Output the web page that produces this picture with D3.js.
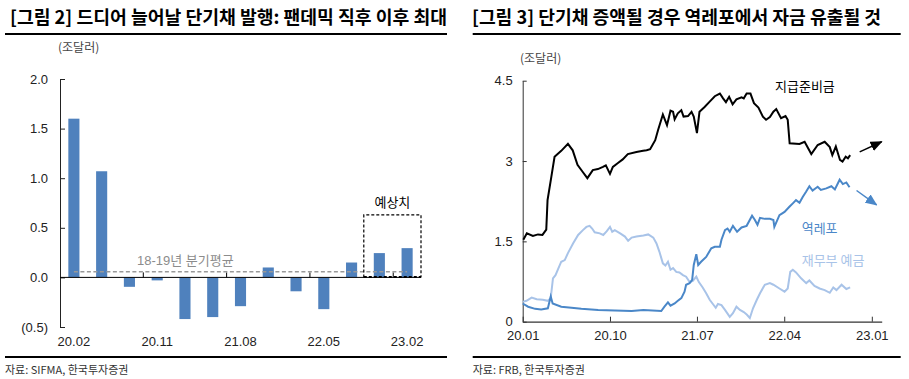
<!DOCTYPE html>
<html><head><meta charset="utf-8">
<script src="https://cdn.jsdelivr.net/npm/d3@7"></script>
<style>
body{margin:0;background:#fff}
svg{display:block}
text{font-family:"Liberation Sans", Arial, "Noto Sans CJK KR", sans-serif;}
.kr{font-family:"Noto Sans CJK KR","Liberation Sans",sans-serif;}
</style>
</head><body>
<svg id="c" width="909" height="379"></svg>
<script>
// ---------- LEFT CHART DATA ----------
const quarters = ["20.02","20.05","20.08","20.11","21.02","21.05","21.08","21.11","22.02","22.05","22.08","22.11","23.02"];
const issuance = [1.6, 1.07, -0.095, -0.03, -0.42, -0.40, -0.29, 0.10, -0.14, -0.32, 0.15, 0.245, 0.295];
const avg1819 = 0.057;
const forecastFrom = "22.11";
const leftYTicks = [2.0, 1.5, 1.0, 0.5, 0.0, -0.5];
const leftXLabels = ["20.02","20.11","21.08","22.05","23.02"];
const leftBoundaryTicks = ["20.11","21.08","22.05","23.02"];

// ---------- RIGHT CHART DATA ----------
const reserves = [
["2020-01-03",1.53],["2020-01-14",1.65],["2020-02-02",1.60],["2020-02-18",1.63],["2020-03-03",1.62],
["2020-03-15",1.72],["2020-03-19",2.27],["2020-03-31",2.71],["2020-04-10",3.08],["2020-05-01",3.19],
["2020-05-22",3.32],["2020-06-06",3.20],["2020-06-21",2.93],["2020-07-07",2.80],["2020-07-22",2.68],
["2020-08-08",2.83],["2020-08-24",2.85],["2020-09-09",2.89],["2020-09-18",2.92],["2020-10-01",2.76],
["2020-10-10",2.89],["2020-10-25",2.96],["2020-11-10",3.03],["2020-11-26",3.13],["2020-12-23",3.17],
["2021-01-13",3.19],["2021-01-24",3.20],["2021-02-04",3.22],["2021-02-20",3.39],["2021-03-01",3.58],
["2021-03-16",3.87],["2021-03-29",3.67],["2021-04-09",3.94],["2021-04-17",3.92],["2021-04-22",3.78],
["2021-05-02",3.89],["2021-05-13",3.95],["2021-05-20",3.83],["2021-06-03",3.84],["2021-06-14",3.92],
["2021-06-21",3.83],["2021-07-01",3.52],["2021-07-09",3.92],["2021-07-25",4.01],["2021-08-10",4.11],
["2021-08-26",4.21],["2021-09-11",4.26],["2021-09-21",4.17],["2021-09-30",4.10],["2021-10-10",4.20],
["2021-10-21",4.06],["2021-11-02",4.15],["2021-11-18",4.19],["2021-11-25",4.17],["2021-12-04",4.26],
["2021-12-16",4.26],["2021-12-27",4.08],["2022-01-10",4.00],["2022-01-24",3.83],["2022-02-03",3.77],
["2022-02-15",3.82],["2022-02-26",3.92],["2022-03-07",3.97],["2022-03-22",3.80],["2022-04-05",3.84],
["2022-04-12",3.77],["2022-04-18",3.33],["2022-05-19",3.32],["2022-06-04",3.36],["2022-06-25",3.13],
["2022-07-15",3.30],["2022-08-06",3.36],["2022-08-22",3.26],["2022-08-30",3.11],["2022-09-10",3.27],
["2022-09-23",3.02],["2022-10-01",2.99],["2022-10-11",3.08],["2022-10-18",3.05],["2022-10-25",3.11]
];
const reverseRepo = [
["2020-01-01",0.34],["2020-01-18",0.28],["2020-02-09",0.24],["2020-02-28",0.23],["2020-03-20",0.25],
["2020-03-29",0.47],["2020-04-04",0.34],["2020-05-01",0.28],["2020-06-02",0.26],["2020-07-03",0.24],
["2020-08-25",0.22],["2020-10-16",0.21],["2020-12-08",0.20],["2021-01-14",0.22],["2021-03-11",0.20],
["2021-03-21",0.28],["2021-04-01",0.36],["2021-04-09",0.30],["2021-04-22",0.34],["2021-05-02",0.39],
["2021-05-13",0.44],["2021-05-23",0.56],["2021-05-28",0.69],["2021-06-08",0.72],["2021-06-16",0.78],
["2021-06-21",1.06],["2021-06-29",1.26],["2021-07-05",1.06],["2021-07-14",1.12],["2021-07-30",1.21],
["2021-08-15",1.37],["2021-08-26",1.40],["2021-09-11",1.40],["2021-09-16",1.53],["2021-09-27",1.71],
["2021-10-05",1.74],["2021-10-12",1.68],["2021-10-22",1.79],["2021-11-04",1.68],["2021-11-18",1.76],
["2021-12-04",1.79],["2021-12-21",1.98],["2021-12-30",1.90],["2022-01-07",1.81],["2022-01-15",1.94],
["2022-01-30",1.92],["2022-02-15",1.92],["2022-02-26",1.90],["2022-03-01",1.77],["2022-03-17",1.99],
["2022-04-02",2.05],["2022-04-18",2.15],["2022-04-28",2.21],["2022-05-08",2.27],["2022-05-19",2.22],
["2022-05-29",2.33],["2022-06-09",2.43],["2022-06-19",2.53],["2022-06-29",2.45],["2022-07-15",2.52],
["2022-07-25",2.46],["2022-08-11",2.49],["2022-08-27",2.53],["2022-09-07",2.47],["2022-09-22",2.65],
["2022-10-02",2.57],["2022-10-13",2.60],["2022-10-23",2.51]
];
const tga = [
["2020-01-01",0.37],["2020-01-13",0.39],["2020-01-29",0.45],["2020-02-14",0.42],["2020-03-04",0.41],
["2020-03-20",0.39],["2020-03-29",0.44],["2020-04-05",0.81],["2020-04-13",0.87],["2020-04-21",0.98],
["2020-05-01",1.12],["2020-05-12",1.15],["2020-05-22",1.28],["2020-06-07",1.46],["2020-06-23",1.62],
["2020-07-08",1.71],["2020-07-19",1.77],["2020-07-29",1.79],["2020-08-06",1.74],["2020-08-14",1.67],
["2020-08-30",1.65],["2020-09-10",1.62],["2020-09-21",1.69],["2020-10-01",1.77],["2020-10-08",1.68],
["2020-10-16",1.71],["2020-11-02",1.65],["2020-11-17",1.59],["2020-11-27",1.51],["2020-12-08",1.57],
["2020-12-23",1.59],["2021-01-14",1.61],["2021-01-29",1.63],["2021-02-14",1.57],["2021-02-24",1.46],
["2021-03-05",1.31],["2021-03-16",1.09],["2021-03-24",1.05],["2021-04-01",1.12],["2021-04-09",0.97],
["2021-04-17",1.00],["2021-04-27",0.93],["2021-05-07",0.92],["2021-05-18",0.87],["2021-05-28",0.84],
["2021-06-08",0.74],["2021-06-18",0.76],["2021-06-29",0.84],["2021-07-07",0.74],["2021-07-19",0.64],
["2021-07-30",0.53],["2021-08-10",0.41],["2021-08-20",0.33],["2021-08-29",0.26],["2021-09-05",0.33],
["2021-09-16",0.31],["2021-09-27",0.22],["2021-10-04",0.16],["2021-10-12",0.09],["2021-10-22",0.16],
["2021-11-02",0.28],["2021-11-13",0.22],["2021-11-25",0.18],["2021-12-05",0.13],["2021-12-14",0.07],
["2021-12-24",0.25],["2022-01-05",0.41],["2022-01-15",0.53],["2022-01-30",0.69],["2022-02-15",0.72],
["2022-02-26",0.69],["2022-03-17",0.62],["2022-04-02",0.56],["2022-04-12",0.62],["2022-04-20",0.93],
["2022-04-28",0.97],["2022-05-08",0.92],["2022-05-24",0.81],["2022-06-09",0.72],["2022-06-19",0.77],
["2022-07-05",0.67],["2022-07-21",0.62],["2022-08-06",0.59],["2022-08-22",0.54],["2022-09-02",0.64],
["2022-09-12",0.59],["2022-09-28",0.69],["2022-10-13",0.61],["2022-10-25",0.64]
];
const rightYTicks = [0, 1.5, 3, 4.5];
const rightXTicks = ["2020-01-01","2020-10-01","2021-07-01","2022-04-01","2023-01-01"];
const arrowReserves = [["2022-11-24",3.17],["2023-02-01",3.36]];
const arrowRepo = [["2022-11-14",2.45],["2023-01-16",2.18]];

// ---------- STYLE ----------
const BAR = "#4f81bd", RRP = "#4a87c8", TGA = "#a8c3e8", TXT = "#222";

const svg = d3.select("#c");
const defs = svg.append("defs");
function marker(id, color){
  defs.append("marker").attr("id", id).attr("markerUnits","userSpaceOnUse")
    .attr("markerWidth",12).attr("markerHeight",10).attr("refX",11).attr("refY",5)
    .attr("orient","auto").append("path").attr("d","M0,0 L12,5 L0,10 Z").attr("fill", color);
}
marker("ab","#000"); marker("abl", RRP);

// ---------- Titles / frames ----------
function frame(x0, x1, tx, tw, title, source){
  svg.append("text").attr("class","kr").attr("x", tx).attr("y", 23.5)
    .attr("font-size", 18).attr("font-weight","bold").attr("fill","#000")
    .attr("textLength", tw).attr("lengthAdjust","spacingAndGlyphs").text(title);
  svg.append("line").attr("x1", x0).attr("x2", x1).attr("y1", 34).attr("y2", 34)
    .attr("stroke","#000").attr("stroke-width", 2);
  svg.append("line").attr("x1", x0).attr("x2", x1).attr("y1", 357).attr("y2", 357)
    .attr("stroke","#000").attr("stroke-width", 2);
  svg.append("text").attr("class","kr").attr("x", x0).attr("y", 373.5)
    .attr("font-size", 11).attr("fill", "#333").text(source);
}
frame(5, 447, 10, 437, "[그림 2] 드디어 늘어날 단기채 발행: 팬데믹 직후 이후 최대", "자료: SIFMA, 한국투자증권");
frame(472.7, 900.7, 472, 409, "[그림 3] 단기채 증액될 경우 역레포에서 자금 유출될 것", "자료: FRB, 한국투자증권");

// ---------- LEFT CHART ----------
const xL = d3.scaleBand().domain(quarters).range([60, 421]).paddingInner(0.6).paddingOuter(0.3);
const yL = d3.scaleLinear().domain([-0.5, 2.0]).range([327, 79]);
const gL = svg.append("g");

svg.append("text").attr("class","kr").attr("x", 58).attr("y", 51.5).attr("font-size", 12)
  .attr("fill","#444").text("(조달러)");

gL.selectAll("rect.bar").data(quarters).join("rect").attr("class","bar")
  .attr("x", d => xL(d)).attr("width", xL.bandwidth())
  .attr("y", (d,i) => yL(Math.max(0, issuance[i])))
  .attr("height", (d,i) => Math.abs(yL(issuance[i]) - yL(0)))
  .attr("fill", BAR);

// y axis
const axL = gL.append("g").attr("transform", "translate(60,0)")
  .call(d3.axisLeft(yL).tickValues(leftYTicks).tickSize(-5).tickSizeOuter(0).tickPadding(12)
    .tickFormat(d => d < 0 ? "(" + Math.abs(d).toFixed(1) + ")" : d.toFixed(1)));
axL.selectAll("text").attr("font-size", 13).attr("fill", TXT);
axL.selectAll("line,path").attr("stroke","#222");

// zero line with boundary ticks
gL.append("line").attr("x1", 60).attr("x2", 421).attr("y1", yL(0)).attr("y2", yL(0)).attr("stroke","#000");
const half = xL.step() * xL.paddingInner() / 2;
gL.selectAll("line.bt").data(leftBoundaryTicks).join("line").attr("class","bt")
  .attr("x1", d => xL(d) - half).attr("x2", d => xL(d) - half)
  .attr("y1", yL(0)).attr("y2", yL(0) - 5).attr("stroke","#000");

// x labels
const axLx = gL.append("g").attr("transform", `translate(0,${yL(-0.5)})`)
  .call(d3.axisBottom(xL).tickValues(leftXLabels).tickSize(0).tickPadding(10));
axLx.select(".domain").remove();
axLx.selectAll("text").attr("font-size", 13).attr("fill", TXT);

// average dashed line
gL.append("line")
  .attr("x1", xL(quarters[0]) + xL.bandwidth()/2).attr("x2", xL(quarters[quarters.length-1]) + xL.bandwidth()/2)
  .attr("y1", yL(avg1819)).attr("y2", yL(avg1819))
  .attr("stroke","#999").attr("stroke-width",1.6).attr("stroke-dasharray","4,2.5");
gL.append("text").attr("x", 137).attr("y", 264.5).attr("font-size", 13).attr("fill","#8c8c8c")
  .text("18-19년 분기평균");

// forecast box
const bx0 = xL(forecastFrom) - 10, bx1 = 421, by0 = yL(0.63), by1 = yL(0);
gL.append("path").attr("d", `M${bx0},${by1} L${bx0},${by0} L${bx1},${by0} L${bx1},${by1}`)
  .attr("fill","none").attr("stroke","#000").attr("stroke-width",1.2).attr("stroke-dasharray","3,2");
gL.append("line").attr("x1", bx0).attr("x2", bx1).attr("y1", by1 - 0.5).attr("y2", by1 - 0.5)
  .attr("stroke","#000").attr("stroke-width",2).attr("stroke-dasharray","3,2");
gL.append("text").attr("class","kr").attr("x", (bx0 + bx1)/2).attr("y", 206.5).attr("text-anchor","middle")
  .attr("font-size", 13).attr("fill","#000").text("예상치");

// ---------- RIGHT CHART ----------
const P = d => new Date(d + "T00:00:00Z");
const xR = d3.scaleUtc().domain([P("2020-01-01"), P("2023-02-01")]).range([522.7, 881.7]);
const yR = d3.scaleLinear().domain([0, 4.5]).range([321.7, 80.7]);
const gR = svg.append("g");

svg.append("text").attr("class","kr").attr("x", 520).attr("y", 63).attr("font-size", 12)
  .attr("fill","#444").text("(조달러)");

const axRy = gR.append("g").attr("transform","translate(522.7,0)")
  .call(d3.axisLeft(yR).tickValues(rightYTicks).tickSize(-4).tickSizeOuter(0).tickPadding(10)
    .tickFormat(d => String(d)));
axRy.selectAll("text").attr("font-size", 13).attr("fill", TXT);
axRy.selectAll("line,path").attr("stroke","#333");

const axRx = gR.append("g").attr("transform", `translate(0,${yR(0)})`)
  .call(d3.axisBottom(xR).tickValues(rightXTicks.map(P)).tickSize(-5).tickSizeOuter(0).tickPadding(9)
    .tickFormat(d3.utcFormat("%y.%m")));
axRx.selectAll("text").attr("font-size", 13).attr("fill", TXT);
axRx.selectAll("line,path").attr("stroke","#333");
axRx.select(".domain").attr("stroke-width",1.3);

const line = d3.line().x(d => xR(P(d[0]))).y(d => yR(d[1]));
gR.append("path").datum(tga).attr("d", line).attr("fill","none").attr("stroke", TGA).attr("stroke-width", 2);
gR.append("path").datum(reverseRepo).attr("d", line).attr("fill","none").attr("stroke", RRP).attr("stroke-width", 2);
gR.append("path").datum(reserves).attr("d", line).attr("fill","none").attr("stroke", "#000").attr("stroke-width", 2);

gR.append("path").datum(arrowReserves).attr("d", line).attr("fill","none").attr("stroke","#000")
  .attr("stroke-width",1.5).attr("marker-end","url(#ab)");
gR.append("path").datum(arrowRepo).attr("d", line).attr("fill","none").attr("stroke",RRP)
  .attr("stroke-width",1.5).attr("marker-end","url(#abl)");

gR.append("text").attr("class","kr").attr("x", 775).attr("y", 90.5).attr("font-size", 13).attr("fill","#000").text("지급준비금");
gR.append("text").attr("class","kr").attr("x", 801.7).attr("y", 232.5).attr("font-size", 13).attr("fill", RRP).text("역레포");
gR.append("text").attr("class","kr").attr("x", 801.7).attr("y", 264.5).attr("font-size", 13).attr("fill", TGA).text("재무부 예금");
</script>
</body></html>
